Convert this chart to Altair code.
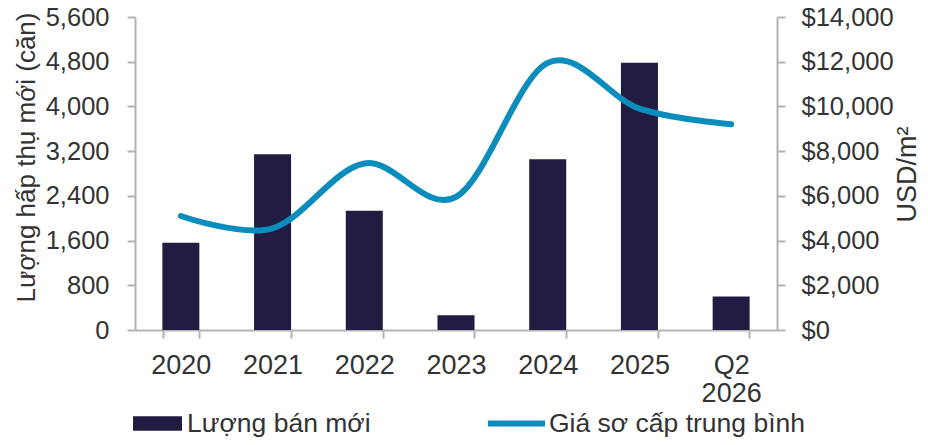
import altair as alt
import pandas as pd

categories = ["2020", "2021", "2022", "2023", "2024", "2025", "Q2 2026"]
sales = [1560, 3145, 2135, 265, 3055, 4780, 600]
price = [5100, 4550, 7450, 5950, 11950, 9900, 9200]
bar_name = "Lượng bán mới"
line_name = "Giá sơ cấp trung bình"
left_ticks = [0, 800, 1600, 2400, 3200, 4000, 4800, 5600]
right_ticks = [0, 2000, 4000, 6000, 8000, 10000, 12000, 14000]

df = pd.DataFrame({
    "cat": categories,
    "sales": sales,
    "price": price,
    "s1": [bar_name] * len(categories),
    "s2": [line_name] * len(categories),
})

FONT = "Liberation Sans"
TXT = "#333333"
AX = "#b3b3b3"

x = alt.X(
    "cat:N",
    sort=categories,
    scale=alt.Scale(paddingInner=0.6, paddingOuter=0.3),
    axis=alt.Axis(
        title=None,
        labelAngle=0,
        tickBand="extent",
        tickSize=8,
        labelPadding=14,
        labelFontSize=27,
        labelLineHeight=28,
        labelExpr="datum.label == 'Q2 2026' ? ['Q2', '2026'] : datum.label",
        domainColor=AX,
        tickColor=AX,
        domainWidth=2,
        tickWidth=2,
        labelColor=TXT,
        labelFont=FONT,
    ),
)

bars = alt.Chart(df).mark_bar(size=37).encode(
    x=x,
    y=alt.Y(
        "sales:Q",
        scale=alt.Scale(domain=[0, 5600], nice=False),
        axis=alt.Axis(
            values=left_ticks,
            format=",.0f",
            title="Lượng hấp thụ mới (căn)",
            titleFontSize=26,
            titleFontWeight="normal",
            titleColor=TXT,
            titleFont=FONT,
            titleAngle=270,
            titleAlign="center",
            titleBaseline="middle",
            titleX=-109,
            titleY=140,
            tickSize=8,
            labelPadding=18,
            labelFontSize=25.5,
            labelColor=TXT,
            labelFont=FONT,
            domainColor=AX,
            tickColor=AX,
            domainWidth=2,
            tickWidth=2,
            grid=False,
        ),
    ),
    fill=alt.Fill(
        "s1:N",
        scale=alt.Scale(range=["#211c42"]),
        legend=alt.Legend(
            title=None,
            orient="none",
            legendX=-2,
            legendY=382,
            symbolType="M-1,-0.3L1,-0.3L1,0.3L-1,0.3Z",
            symbolSize=2401,
            symbolStrokeWidth=0,
            labelFontSize=26.5,
            labelFont=FONT,
            labelColor=TXT,
            labelOffset=5,
            labelLimit=400,
            padding=0,
        ),
    ),
)

line = alt.Chart(df).mark_line(strokeWidth=6, interpolate="cardinal", strokeCap="round").encode(
    x=x,
    y=alt.Y(
        "price:Q",
        scale=alt.Scale(domain=[0, 14000], nice=False),
        axis=alt.Axis(
            values=right_ticks,
            format="$,.0f",
            orient="right",
            title="USD/m²",
            titleFontSize=27,
            titleFontWeight="normal",
            titleColor=TXT,
            titleFont=FONT,
            titleAngle=270,
            titleAlign="center",
            titleBaseline="middle",
            titleX=130,
            titleY=157,
            tickSize=8,
            labelPadding=16,
            labelFontSize=25.5,
            labelColor=TXT,
            labelFont=FONT,
            domainColor=AX,
            tickColor=AX,
            domainWidth=2,
            tickWidth=2,
            grid=False,
        ),
    ),
    stroke=alt.Stroke(
        "s2:N",
        scale=alt.Scale(range=["#0a8cbc"]),
        legend=alt.Legend(
            title=None,
            orient="none",
            legendX=350,
            legendY=375,
            symbolType="stroke",
            symbolSize=3249,
            symbolStrokeWidth=6,
            symbolStrokeColor="#0a8cbc",
            labelFontSize=26.5,
            labelFont=FONT,
            labelColor=TXT,
            labelOffset=1,
            labelLimit=400,
            padding=0,
        ),
    ),
)

chart = (
    alt.layer(bars, line)
    .resolve_scale(y="independent", fill="independent", stroke="independent")
    .properties(
        width=642,
        height=313,
        autosize=alt.AutoSizeParams(type="none"),
        padding={"left": 127, "top": 9, "right": 143, "bottom": 107},
        background="white",
    )
    .configure_view(stroke=None)
)

chart.save("out.html", embed_options={"renderer": "svg", "actions": False})
